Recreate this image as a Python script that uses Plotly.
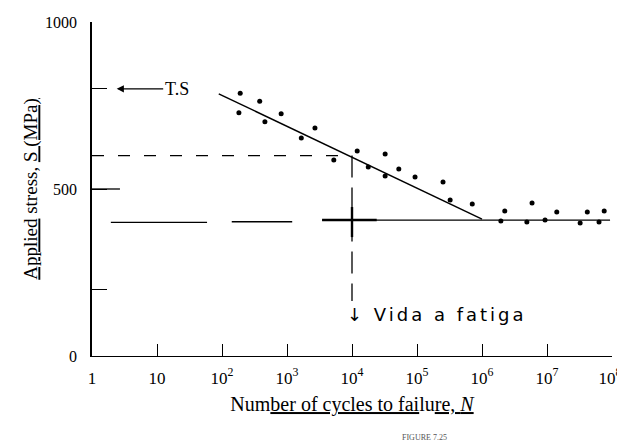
import plotly.graph_objects as go

# ---- data ----
logN_pts = [2.28, 2.58, 2.26, 2.91, 2.66, 3.43, 3.22, 3.72, 4.08, 4.51, 4.25, 4.72, 4.51,
            4.97, 5.40, 5.51, 5.85, 6.35, 6.77, 6.29, 6.69, 6.97, 7.15, 7.51, 7.62, 7.80, 7.88]
S_pts = [787, 763, 728, 725, 701, 683, 653, 587, 614, 605, 566, 560, 539,
         536, 521, 467, 455, 434, 458, 404, 401, 407, 431, 398, 431, 401, 434]
N_pts = [10 ** v for v in logN_pts]

fit_N = [10 ** 1.95, 10 ** 6.0]
fit_S = [785, 410]

endurance_N = [10 ** 0.29, 10 ** 1.77, None, 10 ** 2.15, 10 ** 3.08, None, 10 ** 3.54, 10 ** 7.97]
endurance_S = [400, 400, None, 402, 402, None, 407, 407]

cross_N = [10 ** 3.54, 10 ** 4.38, None, 1e4, 1e4]
cross_S = [407, 407, None, 446, 356]

fatigue_N = 1e4
fatigue_S = 600
tensile_S = 800

x_tickvals = [1, 10, 1e2, 1e3, 1e4, 1e5, 1e6, 1e7, 1e8]
x_ticktext = ["1", "10", "10<sup>2</sup>", "10<sup>3</sup>", "10<sup>4</sup>",
              "10<sup>5</sup>", "10<sup>6</sup>", "10<sup>7</sup>",
              "10<sup>8</sup>\u00a0"]
y_tickvals = [0, 200, 500, 800, 1000]
y_ticktext = ["0", "", "500", "", "1000"]

FONT = "Liberation Serif"

fig = go.Figure()

# longer tick mark at 500
fig.add_trace(go.Scatter(x=[1, 10 ** 0.43], y=[500, 500], mode="lines",
                         line=dict(color="black", width=1.3),
                         showlegend=False, hoverinfo="skip"))
# endurance (horizontal) line
fig.add_trace(go.Scatter(x=endurance_N, y=endurance_S, mode="lines",
                         line=dict(color="black", width=1.3), connectgaps=False,
                         showlegend=False, hoverinfo="skip"))
# heavier cross mark where the fatigue-life guide meets the limit line
fig.add_trace(go.Scatter(x=cross_N, y=cross_S, mode="lines",
                         line=dict(color="black", width=2.4), connectgaps=False,
                         showlegend=False, hoverinfo="skip"))
# dashed guide at fatigue strength
fig.add_trace(go.Scatter(x=[1, fatigue_N], y=[fatigue_S, fatigue_S], mode="lines",
                         line=dict(color="black", width=1.3, dash="12px,14px"),
                         showlegend=False, hoverinfo="skip"))
# vertical dashed guide at fatigue life
fig.add_trace(go.Scatter(x=[fatigue_N, fatigue_N], y=[fatigue_S, 165], mode="lines",
                         line=dict(color="black", width=1.3, dash="22px,10px"),
                         showlegend=False, hoverinfo="skip"))
# fitted S-N line
fig.add_trace(go.Scatter(x=fit_N, y=fit_S, mode="lines",
                         line=dict(color="black", width=1.5),
                         showlegend=False, hoverinfo="skip"))
# data points
fig.add_trace(go.Scatter(x=N_pts, y=S_pts, mode="markers",
                         marker=dict(color="black", size=5, symbol="circle"),
                         showlegend=False))

# T.S annotation
fig.add_annotation(x=0.38, y=tensile_S, xref="x", yref="y", text="T.S",
                   showarrow=True, arrowhead=2, arrowsize=1.2, arrowwidth=1.2,
                   arrowcolor="black", ax=60, ay=0,
                   font=dict(family=FONT, size=18, color="black"))
# Vida a fatiga annotation
fig.add_annotation(x=4, y=123, xref="x", yref="y",
                   text="<span style='letter-spacing:3px'>↓ Vida a fatiga</span>",
                   showarrow=False, xanchor="left", yanchor="middle", xshift=-7,
                   font=dict(family="DejaVu Sans", size=18, color="black"))
# figure label
fig.add_annotation(x=0.64, y=-0.243, xref="paper", yref="paper", yanchor="middle",
                   text="FIGURE 7.25", showarrow=False,
                   font=dict(family=FONT, size=8, color="#555"))

fig.update_xaxes(type="log", range=[0, 8], tickvals=x_tickvals, ticktext=x_ticktext,
                 ticks="inside", ticklen=12, tickwidth=1.3, tickcolor="black",
                 showline=True, linecolor="black", linewidth=1.3, automargin=False,
                 showgrid=False, zeroline=False, ticklabelstandoff=6,
                 ticklabeloverflow="allow",
                 tickfont=dict(family=FONT, size=17, color="black"),
                 title=dict(text="Num<u>ber of cycles to fai</u>lu<u>re, <i>N</i></u>",
                            font=dict(family=FONT, size=20, color="black"), standoff=10))
fig.update_yaxes(range=[0, 1000], tickvals=y_tickvals, ticktext=y_ticktext,
                 ticks="inside", ticklen=15, tickwidth=1.3, tickcolor="black",
                 showline=True, linecolor="black", linewidth=1.5, automargin=False,
                 showgrid=False, zeroline=False, ticklabelstandoff=10,
                 ticklabeloverflow="allow",
                 tickfont=dict(family=FONT, size=16, color="black"),
                 title=dict(text="<u>Applied</u> stress, <u>S (MPa)</u>",
                            font=dict(family=FONT, size=19, color="black"), standoff=2))

# page body has an 8px margin, so the figure is 8px smaller and offset
fig.update_layout(width=617, height=440, margin=dict(l=84, r=13, t=14, b=92),
                  paper_bgcolor="white", plot_bgcolor="white")

fig.write_html("out.html")
